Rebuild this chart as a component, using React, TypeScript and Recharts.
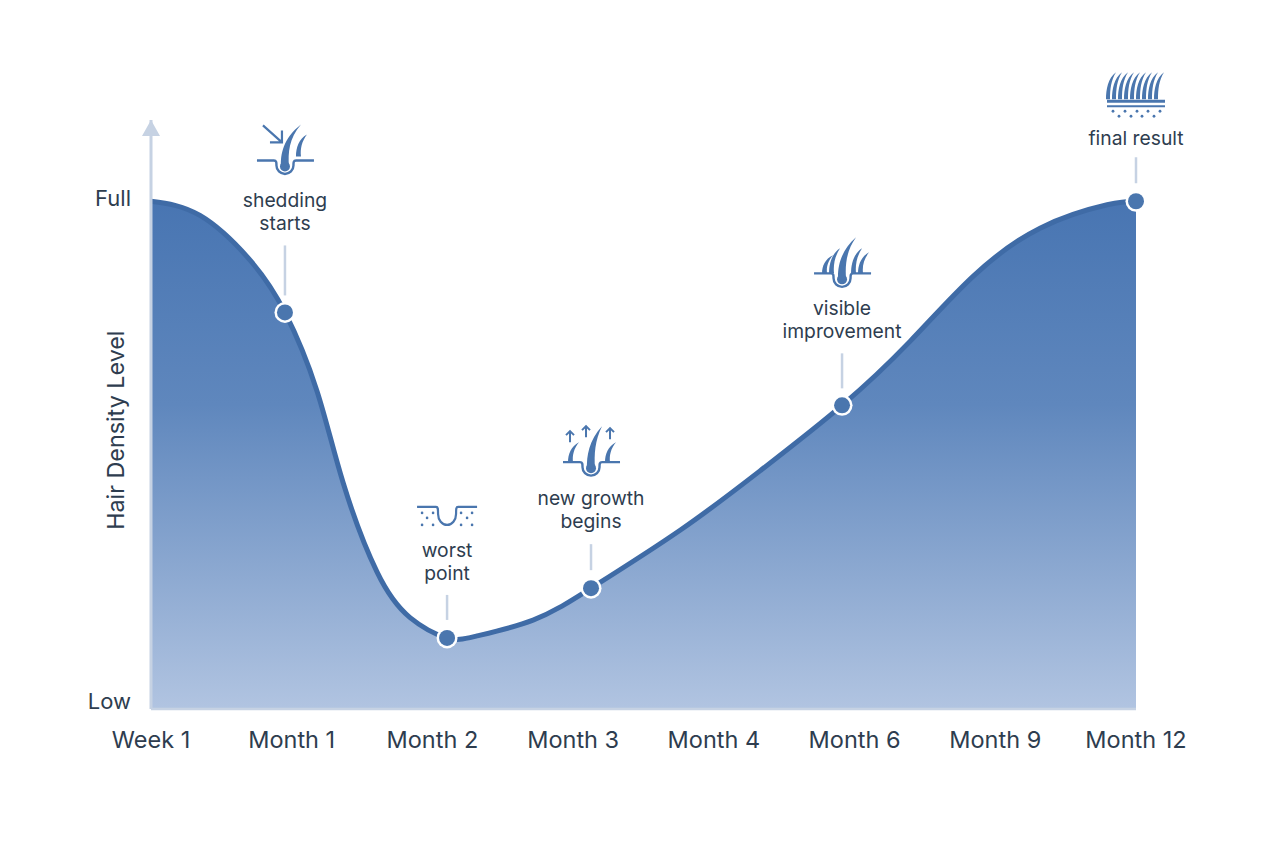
import React from 'react';
import { ComposedChart, Area, XAxis, YAxis, ReferenceDot } from 'recharts';

// x is measured in tick steps (0 = Week 1, 7 = Month 12), y is 0 (Low) to 100 (Full)
const timeSteps = [0, 0.348, 0.704, 0.952, 1.18, 1.365, 1.606, 1.841, 2.104, 2.317, 2.715, 3.127, 3.76, 4.328, 4.911, 5.394, 5.842, 6.318, 6.795, 7];
const density = [100, 97.2, 88.4, 78.1, 62.6, 44.6, 27, 18, 14, 14.4, 17.5, 23.8, 35.2, 46.9, 59.8, 72.4, 85.2, 94.7, 99.3, 100];
const xLabels = ['Week 1', 'Month 1', 'Month 2', 'Month 3', 'Month 4', 'Month 6', 'Month 9', 'Month 12'];
const xTicks = [0, 1, 2, 3, 4, 5, 6, 7];
const yTicks = [0, 100];
const yLabels = ['Low', 'Full'];

const milestoneSteps = [0.952, 2.104, 3.127, 4.911, 7];
const milestoneValues = [78.1, 14, 23.8, 59.8, 100];
const milestoneLabels = [['shedding', 'starts'], ['worst', 'point'], ['new growth', 'begins'], ['visible', 'improvement'], ['final result']];

const chartData = timeSteps.map((t, i) => ({ t, density: density[i] }));

const BLUE = '#4a76ae';
const TEXT = '#2e3d4f';
const STEM = '#c6d2e3';
const FONT = 'Inter, sans-serif';

const Follicle = ({ tipX = 14 }: { tipX?: number }) => (
  <g>
    <path d="M-28 0H-11C-8.500 0-8.500 2-8.500 5a8.500 8.500 0 0 0 17 0C8.500 2 8.500 0 11 0H29" fill="none" stroke={BLUE} strokeWidth={2.4} />
    <circle cx={0} cy={6} r={5} fill={BLUE} />
    <path d={`M-4 6C-4.500 -6 -2 -22 ${tipX} -36C4 -22 3 -8 4 6Z`} fill={BLUE} />
  </g>
);

const Wisp = ({ x, h }: { x: number; h: number }) => (
  <path
    d={`M${x - 3} 0C${x - 3} ${-h * 0.4} ${x} ${-h * 0.8} ${x + 8} ${-h}C${x + 3} ${-h * 0.7} ${x + 1} ${-h * 0.35} ${x + 2} 0Z`}
    fill={BLUE}
  />
);

const Arrow = ({ x, y }: { x: number; y: number }) => (
  <path d={`M${x} ${y}V${y - 11}M${x - 4} ${y - 7}L${x} ${y - 11}L${x + 4} ${y - 7}`} fill="none" stroke={BLUE} strokeWidth={2} />
);

const SheddingIcon = () => (
  <g>
    <Follicle tipX={16} />
    <g transform="translate(0 -4)"><Wisp x={14} h={22} /></g>
    <path d="M-22-35L-3-18M-15-18H-3V-30" fill="none" stroke={BLUE} strokeWidth={2.2} />
  </g>
);

const WorstIcon = () => (
  <g>
    <path d="M-30 0H-11C-9 0-9 2-9 7a9 11 0 0 0 18 0C9 2 9 0 11 0H30" fill="none" stroke={BLUE} strokeWidth={2.2} />
    {[[-25, 6], [-14, 6], [-20, 11], [-25, 18], [-14, 18], [14, 6], [25, 6], [20, 11], [14, 18], [25, 18]].map(([x, y]) => (
      <circle key={`${x}/${y}`} cx={x} cy={y} r={1.300} fill={BLUE} />
    ))}
  </g>
);

const GrowthIcon = () => (
  <g>
    <Follicle tipX={11} />
    <Wisp x={-20} h={20} />
    <Wisp x={17} h={20} />
    <Arrow x={-21} y={-20} />
    <Arrow x={-5} y={-25} />
    <Arrow x={19} y={-23} />
  </g>
);

const ImprovedIcon = () => (
  <g>
    <Follicle tipX={14} />
    <Wisp x={-17} h={18} />
    <Wisp x={-10} h={25} />
    <Wisp x={12} h={25} />
    <Wisp x={19} h={21} />
  </g>
);

const FinalIcon = () => (
  <g>
    {[-28, -22, -16, -10, -4, 2, 8, 14, 20].map(x => (
      <path key={x} d={`M${x - 2} -2C${x - 2} -12 ${x} -23 ${x + 8} -29C${x + 3} -21 ${x + 2} -12 ${x + 2} -2Z`} fill={BLUE} />
    ))}
    <path d="M-29 0H29" stroke={BLUE} strokeWidth={3} />
    <path d="M-29 5H29" stroke={BLUE} strokeWidth={2} />
    {[-23, -11, 1, 12, 24].map(x => (
      <circle key={x} cx={x} cy={10} r={1.400} fill={BLUE} />
    ))}
    {[-17, -5, 6, 18].map(x => (
      <circle key={x} cx={x} cy={15} r={1.400} fill={BLUE} />
    ))}
  </g>
);

// layout of each annotation relative to its point, same order as the milestone arrays
const annotations = [
  { icon: <SheddingIcon />, iconY: -152, textY: -105, stemTop: -67, stemBottom: -17 },
  { icon: <WorstIcon />, iconY: -131, textY: -81, stemTop: -43, stemBottom: -18 },
  { icon: <GrowthIcon />, iconY: -126, textY: -83, stemTop: -44, stemBottom: -18 },
  { icon: <ImprovedIcon />, iconY: -132, textY: -90, stemTop: -52, stemBottom: -17 },
  { icon: <FinalIcon />, iconY: -100, textY: -56, stemTop: -44, stemBottom: -18 },
];

const Milestone = ({ cx, cy, index }: { cx?: number; cy?: number; index: number }) => {
  const a = annotations[index];
  const lines = milestoneLabels[index];
  return (
    <g transform={`translate(${cx} ${cy})`}>
      <line x1={0} x2={0} y1={a.stemTop} y2={a.stemBottom} stroke={STEM} strokeWidth={2.500} />
      <g transform={`translate(0 ${a.iconY})`}>{a.icon}</g>
      <text textAnchor="middle" fontFamily={FONT} fontSize={19.300} fill={TEXT}>
        {lines.map((line, i) => (
          <tspan key={line} x={0} y={a.textY + i * 23}>{line}</tspan>
        ))}
      </text>
      <circle r={10.500} fill="#fff" />
      <circle r={8} fill={BLUE} />
    </g>
  );
};

const AxisArrow = ({ cx, cy }: { cx?: number; cy?: number }) => (
  <path d={`M${cx} ${cy}L${(cx ?? 0) + 9} ${(cy ?? 0) + 16}H${(cx ?? 0) - 9}Z`} fill={STEM} />
);

const YTick = ({ x, y, payload }: any) => (
  <text x={x - 12} y={y + (payload.value === 100 ? 5 : 0)} textAnchor="end" fontFamily={FONT} fontSize={22} fill={TEXT}>
    {yLabels[yTicks.indexOf(payload.value)]}
  </text>
);

const XTick = ({ x, y, payload }: any) => (
  <text x={x} y={y + 31} textAnchor="middle" fontFamily={FONT} fontSize={23.500} fill={TEXT}>
    {xLabels[payload.value]}
  </text>
);

export default function App() {
  return (
    <div style={{ position: 'absolute', left: 0, top: 0, width: 1264, height: 848, background: '#fff' }}>
      <ComposedChart width={1264} height={848} data={chartData} margin={{ top: 120, right: 128, bottom: 79, left: 91 }}>
        <defs>
          <linearGradient id="densityFill" x1="0" y1="0" x2="0" y2="1">
            <stop offset="0%" stopColor="#4875b2" />
            <stop offset="40%" stopColor="#5f87bd" />
            <stop offset="100%" stopColor="#b1c4e1" />
          </linearGradient>
        </defs>
        <XAxis
          dataKey="t"
          type="number"
          domain={[0, 7]}
          ticks={xTicks}
          interval={0}
          height={60}
          tickLine={false}
          axisLine={{ stroke: STEM, strokeWidth: 2.500 }}
          tick={<XTick />}
        />
        <YAxis
          domain={[0, 116]}
          ticks={yTicks}
          interval={0}
          width={60}
          tickLine={false}
          axisLine={{ stroke: STEM, strokeWidth: 3 }}
          tick={<YTick />}
          label={{ value: 'Hair Density Level', angle: -90, position: 'left', offset: -25, dy: -84, fontFamily: FONT, fontSize: 23.300, fill: TEXT }}
        />
        <Area
          type="natural"
          dataKey="density"
          stroke="#3f6ba6"
          strokeWidth={5}
          fill="url(#densityFill)"
          fillOpacity={1}
          dot={false}
          activeDot={false}
          isAnimationActive={false}
        />
        <ReferenceDot x={0} y={116} ifOverflow="visible" shape={<AxisArrow />} />
        {milestoneSteps.map((step, i) => (
          <ReferenceDot
            key={step}
            x={step}
            y={milestoneValues[i]}
            ifOverflow="visible"
            shape={(props: any) => <Milestone cx={props.cx} cy={props.cy} index={i} />}
          />
        ))}
      </ComposedChart>
    </div>
  );
}
